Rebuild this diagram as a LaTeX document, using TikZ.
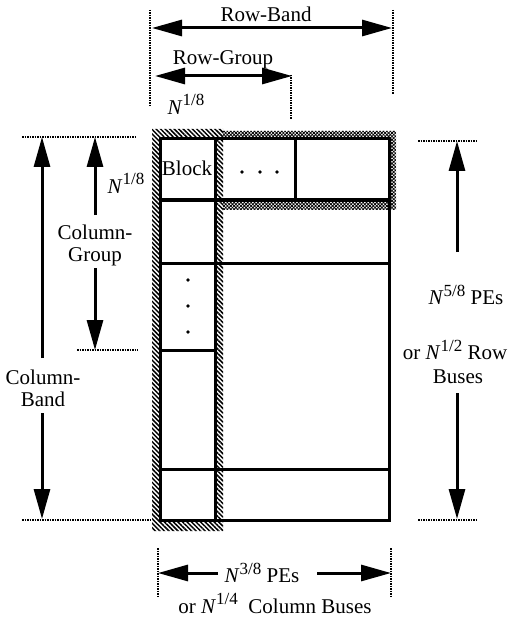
\documentclass[tikz,border=0pt]{standalone}
\usepackage{fontspec}
\setmainfont{Liberation Serif}
\usetikzlibrary{arrows.meta,patterns,patterns.meta}
\newcommand\Np[1]{\textit{N}\raisebox{0.42em}{\fontsize{17}{17}\selectfont #1}}
\begin{document}
\begin{tikzpicture}[x=1pt,y=-1pt,
  grid/.style={line width=3pt},
  dimarrow/.style={line width=3pt,-{Triangle[length=30pt,width=16pt]}},
  dimboth/.style={line width=3pt,{Triangle[length=30pt,width=16pt]}-{Triangle[length=30pt,width=16pt]}},
  dotl/.style={line width=2pt,dash pattern=on 1.5pt off 1pt},
  lbl/.style={font=\fontsize{21}{22}\selectfont, inner sep=0pt, align=center}]
\useasboundingbox (0,0) rectangle (523,620);
% hatched bands
\fill[pattern={Lines[angle=45,distance=2.4pt,line width=0.8pt]},even odd rule]
  (152,131) rectangle (396,210) (160,139) rectangle (389,200);
\fill[pattern={Lines[angle=-45,distance=2.4pt,line width=0.8pt]},even odd rule]
  (152,131) rectangle (396,210) (160,139) rectangle (389,200);
\fill[white] (152,129) rectangle (223,210);
\fill[pattern={Lines[angle=-45,distance=3.2pt,line width=1.5pt]},even odd rule]
  (152,129) rectangle (223,531) (160,139) rectangle (215,521);
% grid
\draw[grid] (160,139) rectangle (389,520);
\draw[grid] (215,139) -- (215,520);
\draw[grid,line width=4pt] (160,200) -- (389,200);
\draw[grid] (160,263) -- (389,263);
\draw[grid] (295,139) -- (295,200);
\draw[grid] (160,350) -- (215,350);
\draw[grid] (160,469) -- (389,469);
\node[lbl] (blk) at (187,168) {Block};
\foreach \x in {242,260,277} \fill (\x,172) circle (1.8pt);
\foreach \y in {280,306,332} \fill (188,\y) circle (1.8pt);
% dotted guide lines
\draw[dotl] (150,10) -- (150,107);
\draw[dotl] (393,10) -- (393,95);
\draw[dotl] (291,75) -- (291,120);
\draw[dotl] (22,137) -- (137,137);
\draw[dotl] (77,350) -- (138,350);
\draw[dotl] (22,520) -- (152,520);
\draw[dotl] (418,141) -- (478,141);
\draw[dotl] (418,520) -- (478,520);
\draw[dotl] (158,548) -- (158,597);
\draw[dotl] (391,548) -- (391,597);
% Row-Band
\coordinate (rbL) at (152,28); \coordinate (rbR) at (392,28);
\draw[dimboth] (rbL) -- (rbR);
\node[lbl] (rb) at (266,14) {Row-Band};
% Row-Group
\coordinate (rgL) at (155,76); \coordinate (rgR) at (292,76);
\draw[dimboth] (rgL) -- (rgR);
\node[lbl] (rg) at (223,60) {Row-Group};
% N^{1/8}
\node[lbl] (n8t) at (186,104) {\Np{1/8}};
\node[lbl] (n8l) at (126,183) {\Np{1/8}};
% Column-Band
\node[lbl] (cb) at (43,388) {Column-\\Band};
\coordinate (cbT) at (42,137); \coordinate (cbB) at (42,519);
\draw[dimarrow] (42,358) -- (cbT);
\draw[dimarrow] (42,413) -- (cbB);
% Column-Group
\node[lbl] (cg) at (95,245) {Column-\\Group};
\coordinate (cgT) at (95,137); \coordinate (cgB) at (95,350);
\draw[dimarrow] (95,215) -- (cgT);
\draw[dimarrow] (95,268) -- (cgB);
% right
\node[lbl] (r1) at (466,295) {\Np{5/8} PEs};
\node[lbl] (r2) at (455,350) {or \Np{1/2} Row};
\node[lbl] (r3) at (458,377) {Buses};
\coordinate (rT) at (457,141); \coordinate (rB) at (457,519);
\draw[dimarrow] (457,252) -- (rT);
\draw[dimarrow] (457,393) -- (rB);
% bottom
\node[lbl] (b1) at (262,573) {\Np{3/8} PEs};
\coordinate (bL) at (158,573); \coordinate (bR) at (391,573);
\draw[dimarrow] (218,573) -- (bL);
\draw[dimarrow] (317,573) -- (bR);
\node[lbl,anchor=base] (b2) at (275,613) {or \Np{1/4}\ \ Column Buses};
\end{tikzpicture}
\end{document}
